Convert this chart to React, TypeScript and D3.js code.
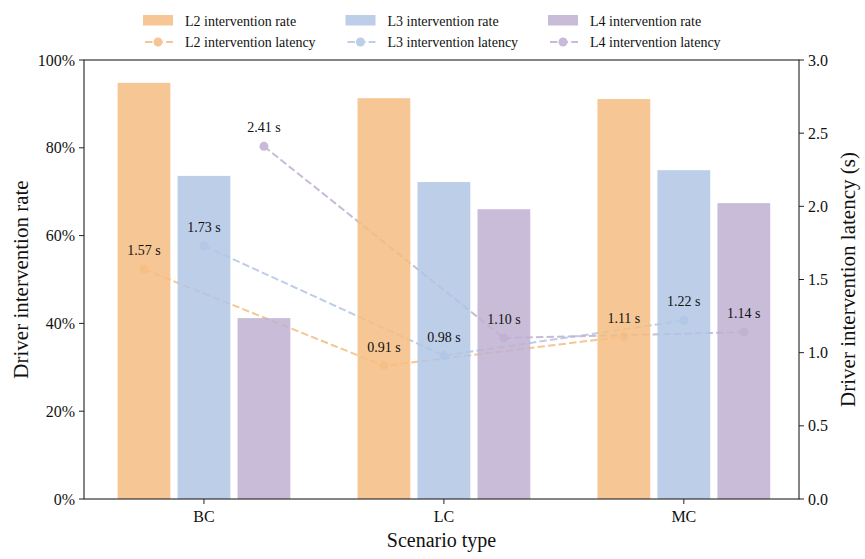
import * as d3 from "d3";

// scenario categories and series
const scenarios = ["BC", "LC", "MC"];
const levels = ["L2", "L3", "L4"];
const rateL2 = [0.948, 0.913, 0.911];
const rateL3 = [0.736, 0.722, 0.749];
const rateL4 = [0.412, 0.660, 0.674];
const latL2 = [1.57, 0.91, 1.11];
const latL3 = [1.73, 0.98, 1.22];
const latL4 = [2.41, 1.10, 1.14];
const rateTicks = [0, 0.2, 0.4, 0.6, 0.8, 1.0];
const latTicks = [0, 0.5, 1.0, 1.5, 2.0, 2.5, 3.0];
const colors = ["#F4BD83", "#B1C6E5", "#C0B0D1"];

const W = 865;
const H = 559;
const m = {left: 84, right: 66, top: 60, bottom: 60};
const FONT = "'Liberation Serif', 'Times New Roman', serif";

const App = () => {
    const rates = [rateL2, rateL3, rateL4];
    const lats = [latL2, latL3, latL4];

    const x = d3.scaleLinear().domain([-0.5, 2.48]).range([m.left, W - m.right]);
    const yRate = d3.scaleLinear().domain([0, 1]).range([H - m.bottom, m.top]);
    const yLat = d3.scaleLinear().domain([0, 3]).range([H - m.bottom, m.top]);

    const barW = 0.22;
    const step = 0.25;
    const pos = (i: number, k: number) => i + (k - 1) * step;

    const x0 = m.left, x1 = W - m.right, y0 = H - m.bottom, y1 = m.top;
    const yc = (y0 + y1) / 2;

    return (
        <svg width={W} height={H} style={{display: "block", position: "absolute", left: 0, top: 0}} fontFamily={FONT}>
            <rect width={W} height={H} fill="#fff" />

            {/* latency lines, drawn under the bars */}
            {lats.map((s, k) => {
                const pts: [number, number][] = s.map((v, i) => [x(pos(i, k)), yLat(v)]);
                const path = d3.line()(pts) || "";
                return (
                    <g key={"l" + k} opacity={0.85}>
                        <path d={path} fill="none" stroke={colors[k]} strokeWidth={2} strokeDasharray="7.4,3.2" />
                        {pts.map((p, i) => <circle key={i} cx={p[0]} cy={p[1]} r={4.5} fill={colors[k]} />)}
                    </g>
                );
            })}

            {/* bars */}
            {rates.map((s, k) => s.map((v, i) => (
                <rect key={"b" + k + i}
                      x={x(pos(i, k) - barW / 2)}
                      width={x(barW) - x(0)}
                      y={yRate(v)}
                      height={yRate(0) - yRate(v)}
                      fill={colors[k]} fillOpacity={0.85} />
            )))}

            {/* latency labels */}
            {lats.map((s, k) => s.map((v, i) => (
                <text key={"t" + k + i} x={x(pos(i, k))} y={yLat(v) - 14}
                      textAnchor="middle" fontSize={14} fill="#111">
                    {v.toFixed(2) + " s"}
                </text>
            )))}

            {/* frame */}
            <rect x={x0} y={y1} width={x1 - x0} height={y0 - y1} fill="none" stroke="#222" strokeWidth={1.1} />

            {/* left axis */}
            {rateTicks.map(t => (
                <g key={"yl" + t} transform={`translate(${x0},${yRate(t)})`}>
                    <line x1={-5} x2={0} stroke="#222" strokeWidth={1} />
                    <text x={-9} dy="0.35em" textAnchor="end" fontSize={16} fill="#111">{d3.format(".0%")(t)}</text>
                </g>
            ))}
            {/* right axis */}
            {latTicks.map(t => (
                <g key={"yr" + t} transform={`translate(${x1},${yLat(t)})`}>
                    <line x1={0} x2={5} stroke="#222" strokeWidth={1} />
                    <text x={9} dy="0.35em" textAnchor="start" fontSize={16} fill="#111">{t.toFixed(1)}</text>
                </g>
            ))}
            {/* x axis */}
            {scenarios.map((c, i) => (
                <g key={c} transform={`translate(${x(i)},${y0})`}>
                    <line y1={0} y2={5} stroke="#222" strokeWidth={1} />
                    <text y={23} textAnchor="middle" fontSize={16} fill="#111">{c}</text>
                </g>
            ))}

            <text x={(x0 + x1) / 2} y={547} textAnchor="middle" fontSize={20} fill="#111">Scenario type</text>
            <text transform={`translate(28,${yc}) rotate(-90)`} textAnchor="middle" fontSize={21} fill="#111">Driver intervention rate</text>
            <text transform={`translate(855,${yc}) rotate(-90)`} textAnchor="middle" fontSize={21} fill="#111">Driver intervention latency (s)</text>

            {/* legend */}
            {levels.map((lv, k) => {
                const lx = 143 + k * 202.5;
                return (
                    <g key={"lg" + lv}>
                        <rect x={lx} y={15} width={30} height={10.5} fill={colors[k]} fillOpacity={0.85} />
                        <text x={lx + 42} y={26} fontSize={14} fill="#111">{lv + " intervention rate"}</text>
                        <g opacity={0.85}>
                            <line x1={lx} x2={lx + 30} y1={42} y2={42} stroke={colors[k]} strokeWidth={2} strokeDasharray="7.4,3.2" strokeDashoffset={-2} />
                            <circle cx={lx + 15} cy={42} r={4.5} fill={colors[k]} />
                        </g>
                        <text x={lx + 42} y={47} fontSize={14} fill="#111">{lv + " intervention latency"}</text>
                    </g>
                );
            })}
        </svg>
    );
};

export default App;
